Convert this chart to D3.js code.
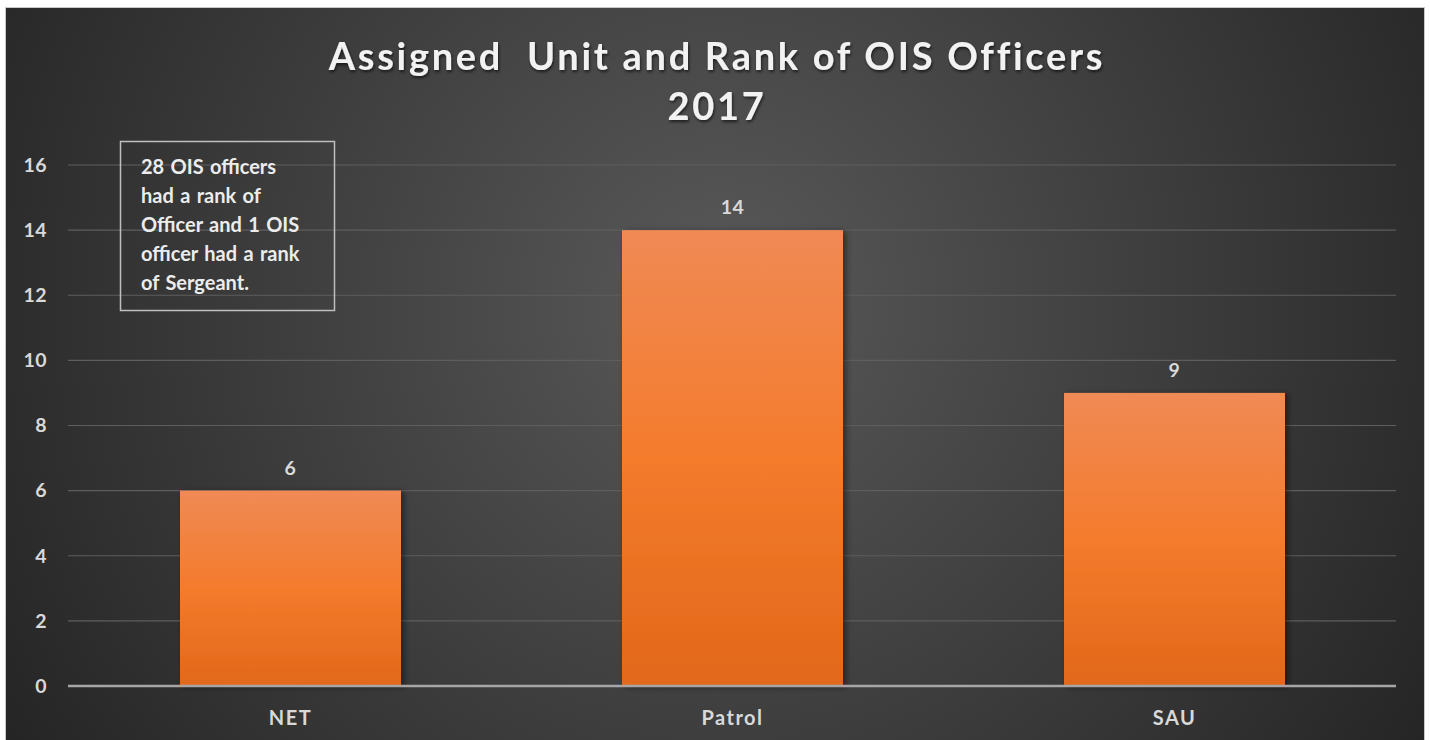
<!DOCTYPE html>
<html>
<head>
<meta charset="utf-8">
<script src="https://cdn.jsdelivr.net/npm/d3@7"></script>
<style>
  html, body { margin: 0; padding: 0; background: #fff; }
  svg { display: block; }
  text { font-family: Lato, "Open Sans", sans-serif; font-weight: bold; }
</style>
</head>
<body>
<svg width="1430" height="740"></svg>
<script>
// chart data
var units = ["NET", "Patrol", "SAU"];
var officers = [6, 14, 9];
var yTicks = [0, 2, 4, 6, 8, 10, 12, 14, 16];
var titleLines = ["Assigned  Unit and Rank of OIS Officers", "2017"];
var noteLines = ["28 OIS officers", "had a rank of", "Officer and 1 OIS", "officer had a rank", "of Sergeant."];

var svg = d3.select("svg"),
  margin = { top: 165, right: 34, bottom: 54, left: 68 },
  width = +svg.attr("width") - margin.left - margin.right,
  height = +svg.attr("height") - margin.top - margin.bottom;

var defs = svg.append("defs");

var bg = defs.append("radialGradient")
  .attr("id", "bg")
  .attr("gradientUnits", "userSpaceOnUse")
  .attr("cx", 720).attr("cy", 300).attr("r", 850);
bg.append("stop").attr("offset", "0%").attr("stop-color", "#595959");
bg.append("stop").attr("offset", "100%").attr("stop-color", "#242424");

var barGrad = defs.append("linearGradient")
  .attr("id", "bar")
  .attr("x1", 0).attr("y1", 0).attr("x2", 0).attr("y2", 1);
barGrad.append("stop").attr("offset", "0%").attr("stop-color", "#f08a55");
barGrad.append("stop").attr("offset", "50%").attr("stop-color", "#f47b2c");
barGrad.append("stop").attr("offset", "100%").attr("stop-color", "#e2681a");

var shadow = defs.append("filter").attr("id", "shadow")
  .attr("x", "-10%").attr("y", "-10%").attr("width", "130%").attr("height", "120%");
shadow.append("feDropShadow")
  .attr("dx", 3).attr("dy", 1).attr("stdDeviation", 3)
  .attr("flood-color", "#000").attr("flood-opacity", 0.45);

var txtShadow = defs.append("filter").attr("id", "tshadow");
txtShadow.append("feDropShadow")
  .attr("dx", 1).attr("dy", 2).attr("stdDeviation", 1.5)
  .attr("flood-color", "#000").attr("flood-opacity", 0.6);

// background panel
svg.append("rect")
  .attr("x", 5.5).attr("y", 7.5)
  .attr("width", 1419).attr("height", 740)
  .attr("fill", "url(#bg)")
  .attr("stroke", "#c8c8c8").attr("stroke-width", 1);

// title
svg.append("g").attr("filter", "url(#tshadow)")
  .selectAll("text")
  .data(titleLines)
  .enter()
  .append("text")
  .attr("x", 717)
  .attr("y", (d, i) => 70 + i * 50)
  .attr("text-anchor", "middle")
  .attr("fill", "#f2f2f2")
  .style("font-size", "38px")
  .style("letter-spacing", "2.7px")
  .style("white-space", "pre")
  .text(d => d);

var x = d3.scaleBand().rangeRound([0, width]).paddingInner(0.5).paddingOuter(0.25);
var y = d3.scaleLinear().range([height, 0]);

x.domain(units);
y.domain([0, 16]);

var g = svg.append("g").attr("transform", "translate(" + margin.left + "," + margin.top + ")");

// gridlines
g.append("g")
  .selectAll("line")
  .data(yTicks.filter(d => d > 0))
  .enter()
  .append("line")
  .attr("x1", 0).attr("x2", width)
  .attr("y1", d => y(d)).attr("y2", d => y(d))
  .attr("stroke", "#5e5e5e").attr("stroke-width", 1.2);

// y axis labels
g.append("g")
  .selectAll("text")
  .data(yTicks)
  .enter()
  .append("text")
  .attr("x", -21)
  .attr("y", d => y(d))
  .attr("dy", "0.35em")
  .attr("text-anchor", "end")
  .attr("fill", "#d9d9d9")
  .style("font-size", "19.5px")
  .style("letter-spacing", "0.5px")
  .text(d => d);

// bars
g.selectAll(".bar")
  .data(units)
  .enter()
  .append("rect")
  .attr("class", "bar")
  .attr("filter", "url(#shadow)")
  .attr("fill", "url(#bar)")
  .attr("x", d => x(d))
  .attr("y", (d, i) => y(officers[i]))
  .attr("width", x.bandwidth())
  .attr("height", (d, i) => height - y(officers[i]));

// value labels
g.selectAll(".val")
  .data(units)
  .enter()
  .append("text")
  .attr("class", "val")
  .attr("x", d => x(d) + x.bandwidth() / 2)
  .attr("y", (d, i) => y(officers[i]) - 16)
  .attr("text-anchor", "middle")
  .attr("fill", "#d9d9d9")
  .style("font-size", "19.5px")
  .style("letter-spacing", "0.5px")
  .text((d, i) => officers[i]);

// x baseline
g.append("line")
  .attr("x1", 0).attr("x2", width)
  .attr("y1", height).attr("y2", height)
  .attr("stroke", "#a6a6a6").attr("stroke-width", 2.5);

// x axis labels
g.selectAll(".cat")
  .data(units)
  .enter()
  .append("text")
  .attr("class", "cat")
  .attr("x", d => x(d) + x.bandwidth() / 2)
  .attr("y", height + 39)
  .attr("text-anchor", "middle")
  .attr("fill", "#d9d9d9")
  .style("font-size", "20px")
  .style("letter-spacing", "1.5px")
  .text(d => d);

// note box
var note = svg.append("g");
note.append("rect")
  .attr("x", 120.5).attr("y", 141.5)
  .attr("width", 214).attr("height", 169)
  .attr("fill", "none")
  .attr("stroke", "#bfbfbf").attr("stroke-width", 1.5);
note.selectAll("text")
  .data(noteLines)
  .enter()
  .append("text")
  .attr("x", 141)
  .attr("y", (d, i) => 174 + i * 29)
  .attr("fill", "#ececec")
  .style("font-size", "20px")
  .style("word-spacing", "1.5px")
  .text(d => d);
</script>
</body>
</html>
